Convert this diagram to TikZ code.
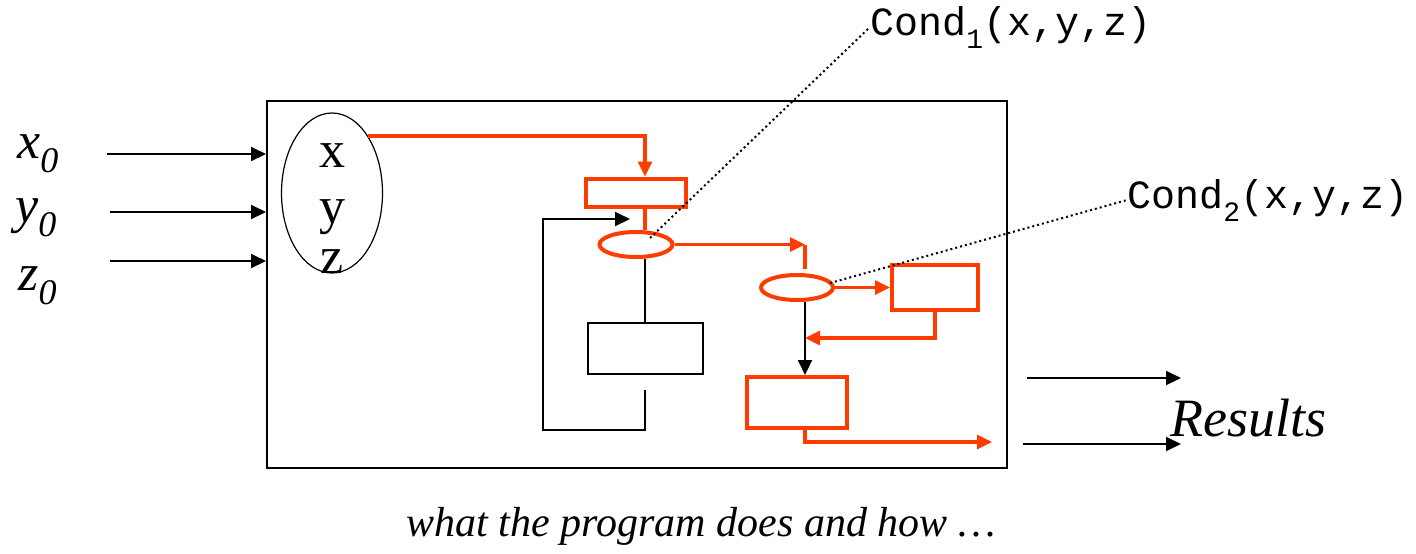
\documentclass[tikz,border=0pt]{standalone}
\usepackage{fontspec}
\setmainfont{Liberation Serif}
\setmonofont{Liberation Mono}
\usetikzlibrary{arrows.meta,shapes.geometric}
\definecolor{flow}{RGB}{255,60,0}
\newcommand{\lowsub}[1]{\raisebox{-7pt}{\fontsize{18}{18}\selectfont #1}}
\newcommand{\condsub}[1]{\raisebox{-6.5pt}{\fontsize{14}{14}\selectfont #1}}

\begin{document}
\begin{tikzpicture}[x=0.5pt,y=-0.5pt,>={Triangle[length=7.5pt,width=7pt]}]
  \tikzstyle{every node}=[inner sep=0pt]
  \tikzstyle{normal}=[draw,line width=1pt]
  \tikzstyle{hot}=[draw=flow,line width=2pt]
  \tikzstyle{wire}=[line width=1pt]
  \tikzstyle{hotwire}=[draw=flow,line width=1.6pt]
  \tikzstyle{dots}=[line width=1pt,dash pattern=on 1pt off 1.5pt]
  \tikzstyle{big}=[font=\fontsize{26}{26}\selectfont]

  \useasboundingbox (0,0) rectangle (1416,553);

  \node[normal,minimum width=370pt,minimum height=183.5pt] (prog) at (637,284.5) {};
  \node[draw,line width=0.6pt,ellipse,minimum width=50.5pt,minimum height=80pt] (vars) at (332,193) {};
  \node[big,anchor=base] (vx) at (332,167) {x};
  \node[big,anchor=base] (vy) at (332,223) {y};
  \node[big,anchor=base] (vz) at (332,273) {z};

  \node[hot,minimum width=50pt,minimum height=14pt]            (b1)  at (636,192.5) {};
  \node[hot,ellipse,minimum width=36.5pt,minimum height=12.5pt] (c1)  at (636,244.5) {};
  \node[normal,minimum width=57.5pt,minimum height=25.5pt]     (blk) at (645,348.5) {};
  \node[hot,ellipse,minimum width=36pt,minimum height=12.5pt]   (c2)  at (797,287.5) {};
  \node[hot,minimum width=43pt,minimum height=22.5pt]          (b2)  at (935,287.5) {};
  \node[hot,minimum width=50pt,minimum height=25.5pt]          (b3)  at (797,402.5) {};

  \node[big,font=\fontsize{26}{26}\selectfont\itshape,anchor=base west] (x0) at (17,158) {x\lowsub{0}};
  \node[big,font=\fontsize{26}{26}\selectfont\itshape,anchor=base west] (y0) at (15,222) {y\lowsub{0}};
  \node[big,font=\fontsize{26}{26}\selectfont\itshape,anchor=base west] (z0) at (18,290) {z\lowsub{0}};

  \node[font=\fontsize{20}{20}\selectfont\ttfamily,anchor=base west] (cond1) at (870,35)  {Cond\condsub{1}(x,y,z)};
  \node[font=\fontsize{20}{20}\selectfont\ttfamily,anchor=base west] (cond2) at (1127,208) {Cond\condsub{2}(x,y,z)};

  \node[font=\fontsize{27}{27}\selectfont\itshape,anchor=base west] (res) at (1170,436) {Results};
  \node[font=\fontsize{21}{21}\selectfont\itshape,anchor=base] (cap) at (701,536) {what the program does and how \dots};

  \coordinate (spine)  at (645,0);
  \coordinate (spine2) at (805,0);
  \coordinate (lp)     at (645,390);
  \coordinate (lq)     at (543,430);
  \coordinate (lend)   at (630,219);
  \coordinate (bend1)  at (805,244.5);
  \coordinate (ret)    at (805,338);
  \coordinate (out)    at (992,442);
  \coordinate (tag1)   at (650,238);
  \coordinate (tag2)   at (830,283);
  \coordinate (in1)    at (107,154);
  \coordinate (in2)    at (110,212);
  \coordinate (in3)    at (110,261);
  \coordinate (o1)     at (1027,378);
  \coordinate (o2)     at (1023,444);

  \draw[wire,->] (in1) to (in1 -| prog.west);
  \draw[wire,->] (in2) to (in2 -| prog.west);
  \draw[wire,->] (in3) to (in3 -| prog.west);

  \draw[wire,->] (o1) to ++(154,0);
  \draw[wire,->] (o2) to ++(158,0);

  \draw[hotwire,->] (vars.north east) -| (b1.north -| spine);
  \draw[hotwire] (b1.south -| spine) to (c1.north -| spine);
  \draw[wire] (c1.south -| spine) to (blk.north);
  \draw[wire,->] (lp) |- (lq) |- (lend);

  \draw[hotwire,->] (c1.east) to (bend1);
  \draw[hotwire] (bend1) to ([yshift=2pt]c2.north -| spine2);
  \draw[hotwire,->] (c2.east) to (b2.west);
  \draw[hotwire,->] (b2.south) |- (ret);
  \draw[wire,->] (c2.south -| spine2) to (b3.north -| spine2);
  \draw[hotwire,->] (b3.south -| spine2) |- (out);

  \draw[dots] (tag1) to[shorten >=7pt] (cond1.west);
  \draw[dots] (tag2) to[shorten >=13pt] (cond2.west);

\end{tikzpicture}
\end{document}
